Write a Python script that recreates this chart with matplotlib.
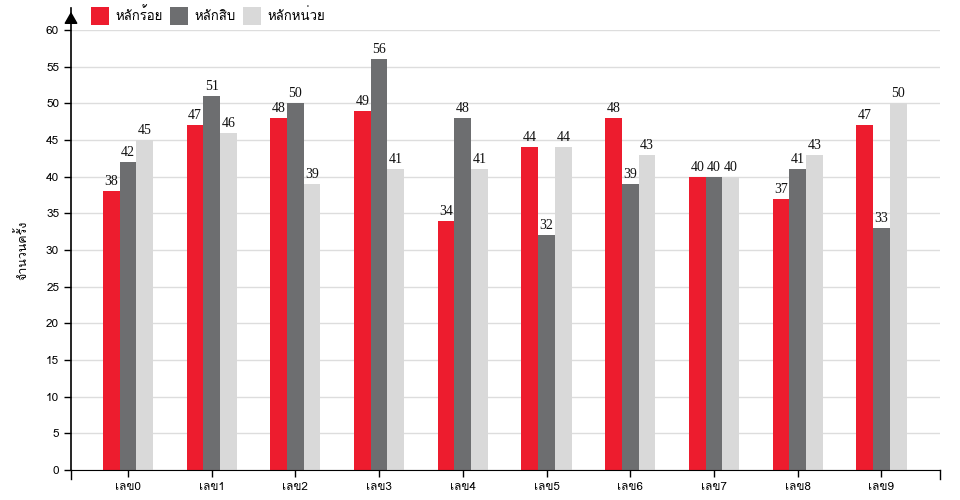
import matplotlib
matplotlib.use("Agg")
import matplotlib.pyplot as plt
from matplotlib import font_manager
from matplotlib.ft2font import FT2Font
from matplotlib.patches import Patch
import numpy as np

# Data
categories = ["เลข0", "เลข1", "เลข2", "เลข3", "เลข4", "เลข5", "เลข6", "เลข7", "เลข8", "เลข9"]
series_names = ["หลักร้อย", "หลักสิบ", "หลักหน่วย"]
hundreds = [38, 47, 48, 49, 34, 44, 48, 40, 37, 47]
tens = [42, 51, 50, 56, 48, 32, 39, 40, 41, 33]
units = [45, 46, 39, 41, 41, 44, 43, 40, 43, 50]
y_label = "จำนวนครั้ง"
colors = ["#ed1c2e", "#6d6e70", "#d9d9d9"]


# find an installed font that has Thai glyphs
def find_thai_font():
    for f in font_manager.fontManager.ttflist:
        try:
            ft = FT2Font(f.fname)
            if ft.get_char_index(ord("ห")) and ft.get_char_index(ord("ั")):
                return f.name
        except Exception:
            continue
    return None


thai = find_thai_font()
fams = ["DejaVu Sans"]
if thai:
    fams = [thai, "DejaVu Sans"]
plt.rcParams["font.family"] = fams

fig = plt.figure(figsize=(9.6, 5), dpi=100)
ax = fig.add_axes([71 / 960, 30 / 500, 869 / 960, 440 / 500])

x = np.arange(len(categories))
w = 0.2
all_series = [hundreds, tens, units]
for i, vals in enumerate(all_series):
    pos = x + (i - 1) * w
    ax.bar(pos, vals, width=w, color=colors[i], zorder=2)
    for px, v in zip(pos, vals):
        ax.text(px, v + 0.4, str(v), ha="center", va="bottom", fontsize=10,
                family="Liberation Serif", color="#111111")

ax.set_xlim(-0.68, 9.7)
ax.set_ylim(0, 60)
ax.set_yticks(range(0, 61, 5))
ax.set_xticks(x)
ax.set_xticklabels(categories, fontsize=8.5)
ax.tick_params(axis="y", labelsize=8.5, length=5, width=1)
ax.tick_params(axis="x", length=5, width=1)
ax.grid(axis="y", color="#dddddd", linewidth=1, zorder=0)
ax.set_axisbelow(True)

for s in ["top", "right", "left"]:
    ax.spines[s].set_visible(False)
ax.spines["bottom"].set_color("black")

# end ticks on the x axis
for xe in [-0.68, 9.7]:
    ax.plot([xe, xe], [0, -1.2], color="black", lw=1, clip_on=False)

# y axis with arrow on top
ax.plot([-0.68, -0.68], [0, 63], color="black", lw=1.2, clip_on=False, zorder=5)
ax.annotate("", xy=(0, 1.0 + 21 / 440), xycoords="axes fraction",
            xytext=(0, 1.0 + 9 / 440), textcoords="axes fraction",
            arrowprops=dict(arrowstyle="-|>,head_length=0.7,head_width=0.4",
                            color="black", lw=1.2))

fig.text(22 / 960, 0.5, y_label, rotation=90, ha="center", va="center", fontsize=9)

handles = [Patch(facecolor=c, label=n) for c, n in zip(colors, series_names)]
fig.legend(handles=handles, loc="upper left", bbox_to_anchor=(82 / 960, 1.005),
           ncol=3, frameon=False, fontsize=9.5, handlelength=1.35, handleheight=1.8,
           handletextpad=0.45, columnspacing=0.6, borderaxespad=0.3)

fig.savefig("out.png", dpi=100)
